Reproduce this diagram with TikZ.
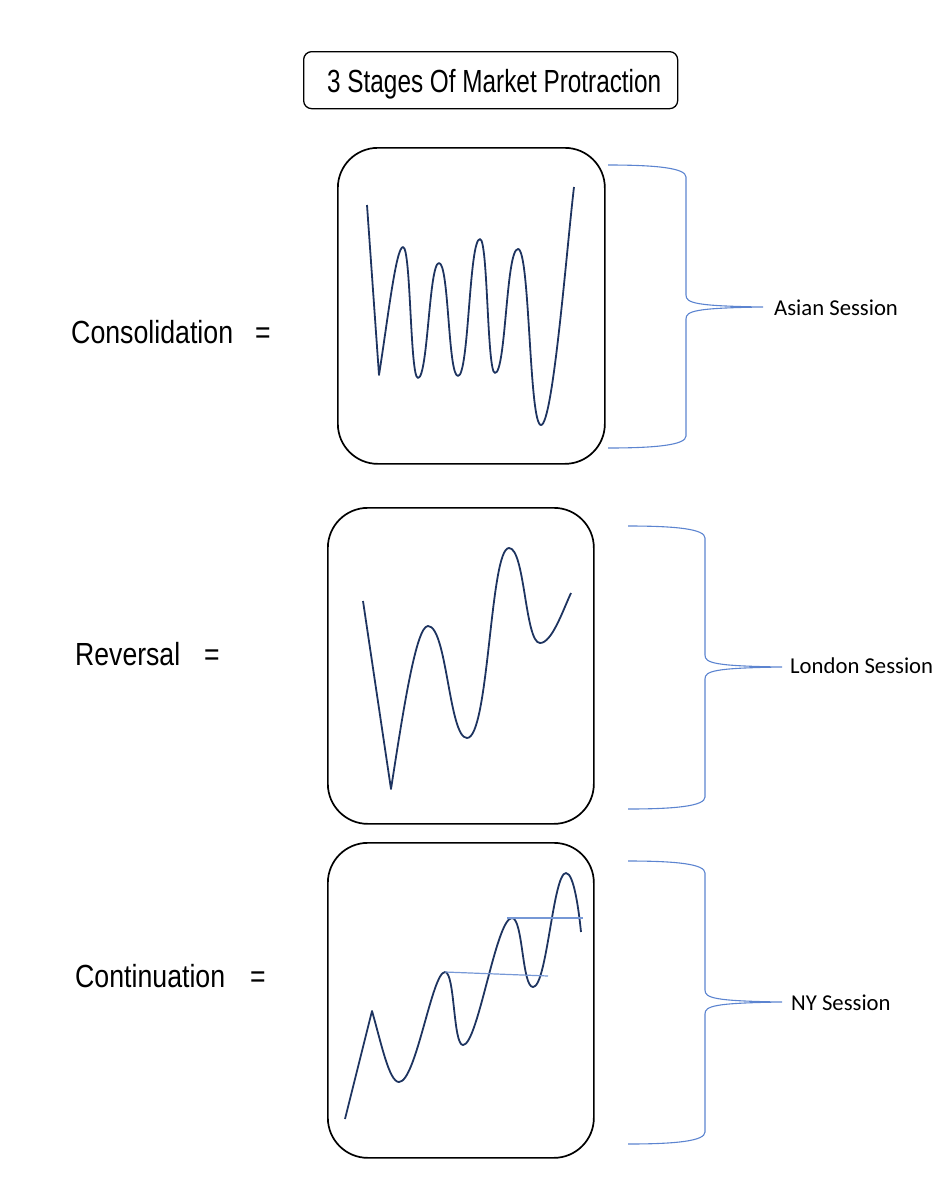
\documentclass[tikz,border=0pt]{standalone}
\usepackage{fontspec}
\setmainfont{Liberation Sans}
\newfontfamily\calib{Carlito}
\definecolor{curvecol}{RGB}{30,52,96}
\definecolor{bracecol}{RGB}{92,132,208}
\definecolor{levelcol}{RGB}{118,152,214}
\newcommand\fitw[2]{\resizebox{#1}{\height}{#2}}
\newcommand\sbrace[7]{%
  \draw[bracestyle] (#1,#4) .. controls (#1+48,#4) and (#2,#4+3) .. (#2,#4+12)
    -- (#2,#5-12) .. controls (#2,#5-4) and (#2+9,#5-1) .. (#7)
    .. controls (#2+9,#5+1) and (#2,#5+4) .. (#2,#5+12)
    -- (#2,#6-12) .. controls (#2,#6-3) and (#1+48,#6) .. (#1,#6);}
\begin{document}
\begin{tikzpicture}[x=1pt,y=-1pt,
  panel/.style={draw=black, line width=1.7pt, rounded corners=40pt, anchor=north west,
    inner sep=0pt, minimum width=#1},
  titlebox/.style={draw=black, line width=1.3pt, rounded corners=8pt, anchor=north west,
    inner sep=0pt, minimum width=374pt, minimum height=57pt},
  lbl/.style={inner sep=0pt, anchor=base west, font=\fontsize{32}{32}\selectfont},
  sess/.style={inner sep=0pt, anchor=base west, font=\calib\fontsize{22.7}{27}\selectfont},
  price/.style={draw=curvecol, line width=1.8pt, line join=round},
  level/.style={draw=levelcol, line width=1.2pt},
  bracestyle/.style={draw=bracecol, line width=1.1pt}]
\useasboundingbox (0,0) rectangle (941,1200);

% title
\node[titlebox] (tbox) at (303,51) {};
\node[lbl] (title) at (327,92) {\fitw{334pt}{3 Stages Of Market Protraction}};

% left labels
\node[lbl] (cons) at (71,343) {\fitw{162pt}{Consolidation}};
\node[lbl] (eqA) at (255,343) {\scalebox{0.83}[1]{=}};
\node[lbl] (rev) at (75,665) {\fitw{105pt}{Reversal}};
\node[lbl] (eqB) at (204,665) {\scalebox{0.83}[1]{=}};
\node[lbl] (cont) at (75,987) {\fitw{150pt}{Continuation}};
\node[lbl] (eqC) at (250,987) {\scalebox{0.83}[1]{=}};

% panels
\node[panel=267pt, minimum height=316pt] (p1) at (337,147) {};
\node[panel=266pt, minimum height=316pt] (p2) at (327,507) {};
\node[panel=266pt, minimum height=315pt] (p3) at (327,842) {};

% consolidation curve
\draw[price] (367,205) -- (379,375)
  .. controls (388,318) and (396,247) .. (403,247)
  .. controls (411,247) and (410,378) .. (418,378)
  .. controls (428,378) and (429,263) .. (439,263)
  .. controls (449,263) and (448,376) .. (458,376)
  .. controls (469,376) and (469,239) .. (480,239)
  .. controls (488,239) and (487,373) .. (495,373)
  .. controls (506,373) and (506,249) .. (518,249)
  .. controls (530,249) and (529,425) .. (541,425)
  .. controls (553,425) and (567,245) .. (574,187);

% reversal curve
\draw[price] (363,601) -- (391,789)
  .. controls (403,712) and (416,626) .. (428,626)
  .. controls (447,626) and (449,738) .. (467,738)
  .. controls (489,738) and (490,548) .. (509,548)
  .. controls (525,548) and (525,643) .. (540,643)
  .. controls (552,643) and (563,610) .. (571,593);

% continuation curve
\draw[price] (345,1119) -- (372,1011)
  .. controls (381,1042) and (389,1082) .. (399,1082)
  .. controls (416,1082) and (432,972) .. (445,972)
  .. controls (455,972) and (453,1045) .. (463,1045)
  .. controls (478,1045) and (496,918) .. (512,918)
  .. controls (523,918) and (522,987) .. (533,987)
  .. controls (547,987) and (553,873) .. (566,873)
  .. controls (574,873) and (579,912) .. (581,932);
\coordinate (hA) at (445,972);
\coordinate (hAe) at (548,976);
\coordinate (hB) at (507,918);
\coordinate (hBe) at (583,918);
\draw[level] (hA) -- (hAe);
\draw[level] (hB) -- (hBe);

% braces and session labels
\coordinate (tipA) at (763,307);
\coordinate (tipB) at (782,667);
\coordinate (tipC) at (782,1002);
\sbrace{608}{686}{763}{165}{307}{448}{tipA}
\sbrace{628}{705}{782}{526}{667}{809}{tipB}
\sbrace{628}{705}{782}{861}{1002}{1144}{tipC}
\node[sess] (asia) at (774,315) {Asian Session};
\node[sess] (lond) at (790,673) {London Session};
\node[sess] (ny) at (791,1010) {NY Session};
\end{tikzpicture}
\end{document}
